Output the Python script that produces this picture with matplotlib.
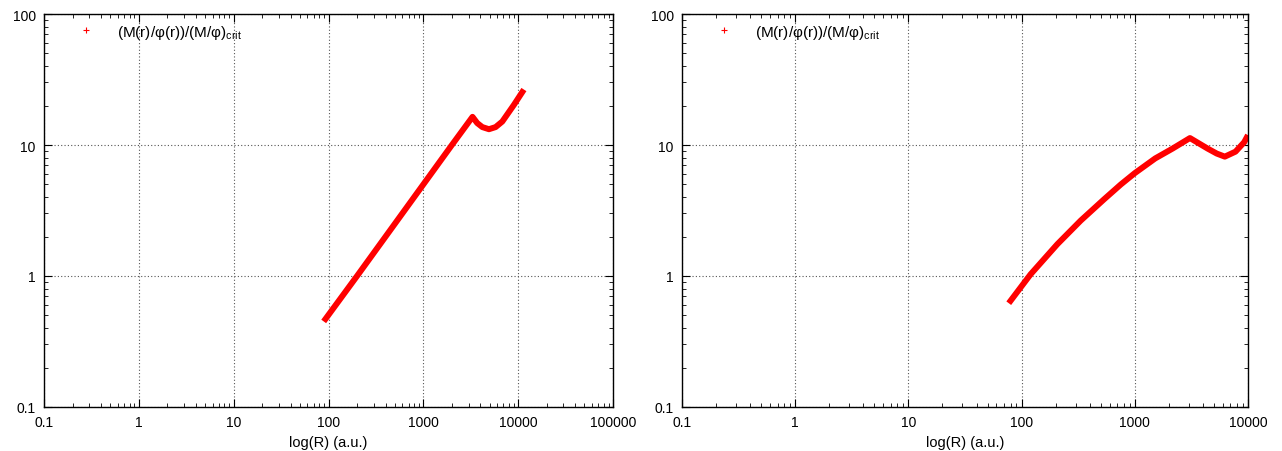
import matplotlib
matplotlib.use("Agg")
import matplotlib.pyplot as plt
from matplotlib.lines import Line2D
from matplotlib.ticker import LogLocator, FixedLocator, NullFormatter

plt.rcParams['font.family'] = ['Liberation Sans', 'DejaVu Sans']
plt.rcParams['mathtext.fontset'] = 'custom'
plt.rcParams['mathtext.rm'] = 'Liberation Sans'
plt.rcParams['mathtext.it'] = 'Liberation Sans'

# left panel: ratio vs radius
r_left = [89, 200, 500, 1000, 2000, 3300, 3700, 4190, 4920, 5780, 6800, 9040, 11500]
v_left = [0.45, 1.0, 2.5, 5.0, 10.0, 16.4, 14.7, 13.7, 13.2, 13.7, 15.1, 20.3, 26.5]

# right panel
r_right = [77, 120, 207, 333, 535, 753, 1000, 1515, 2160, 3070, 4390, 5300, 6240,
           7760, 9250, 10000]
v_right = [0.62, 1.03, 1.75, 2.65, 3.85, 5.0, 6.1, 7.9, 9.4, 11.3, 9.4, 8.6, 8.15,
           8.9, 10.5, 11.9]

label = '(M(r)/φ(r))/(M/φ)$_{\\rm crit}$'
xlabel = 'log(R) (a.u.)'

left_xticks = [0.1, 1, 10, 100, 1000, 10000, 100000]
right_xticks = [0.1, 1, 10, 100, 1000, 10000]
yticks = [0.1, 1, 10, 100]

fig = plt.figure(figsize=(12.82, 4.52), dpi=100)
ax1 = fig.add_axes([44/1282, 44/452, 569/1282, 393/452])
ax2 = fig.add_axes([682/1282, 44/452, 566/1282, 393/452])


def style(ax, xticks):
    ax.set_xscale('log')
    ax.set_yscale('log')
    ax.set_xlim(xticks[0], xticks[-1])
    ax.set_ylim(yticks[0], yticks[-1])
    ax.xaxis.set_major_locator(FixedLocator(xticks))
    ax.yaxis.set_major_locator(FixedLocator(yticks))
    ax.set_xticklabels(['%g' % t for t in xticks])
    ax.set_yticklabels(['%g' % t for t in yticks])
    ax.xaxis.set_minor_locator(LogLocator(base=10, subs=range(2, 10), numticks=20))
    ax.yaxis.set_minor_locator(LogLocator(base=10, subs=range(2, 10), numticks=20))
    ax.xaxis.set_minor_formatter(NullFormatter())
    ax.yaxis.set_minor_formatter(NullFormatter())
    ax.tick_params(which='both', direction='in', top=True, right=True, labelsize=10, colors='black')
    ax.tick_params(which='major', length=6, width=0.8, pad=6)
    ax.tick_params(which='minor', length=3, width=0.6)
    ax.grid(True, which='major', linestyle=(0, (1, 2)), color='#555555', linewidth=0.8)
    for s in ax.spines.values():
        s.set_linewidth(1.0)
    ax.set_xlabel(xlabel, fontsize=10.5, labelpad=4)
    handle = Line2D([], [], color='red', linestyle='none', marker='+', markersize=5, markeredgewidth=0.8)
    ax.legend([handle], [label], loc='upper left', bbox_to_anchor=(0.0, 1.005), frameon=False,
              fontsize=11, handlelength=4.1, handletextpad=0.0, borderaxespad=0.3)


ax1.plot(r_left, v_left, color='red', linewidth=4.3, solid_capstyle='butt')
style(ax1, left_xticks)
ax2.plot(r_right, v_right, color='red', linewidth=4.3, solid_capstyle='butt')
style(ax2, right_xticks)

fig.savefig('out.png', dpi=100)
